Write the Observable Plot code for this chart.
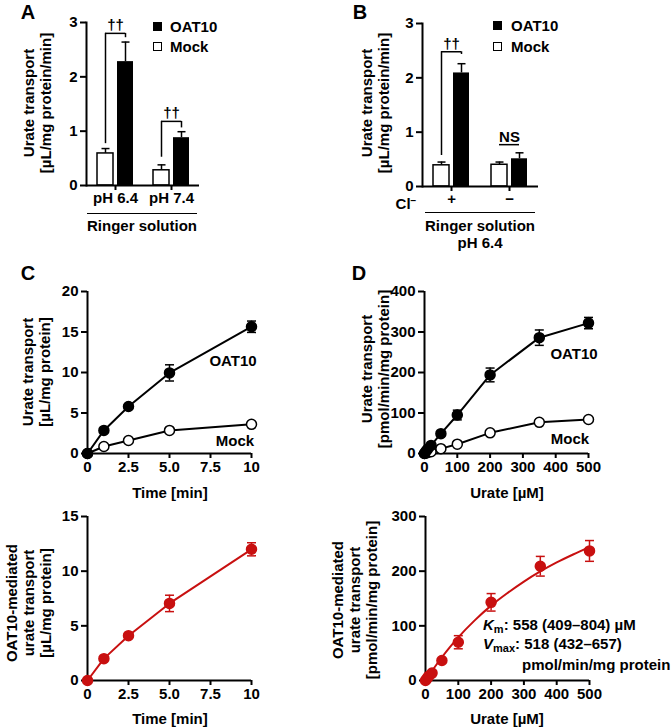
<!DOCTYPE html>
<html><head><meta charset="utf-8">
<script src="https://cdn.jsdelivr.net/npm/d3@7"></script>
<script src="https://cdn.jsdelivr.net/npm/@observablehq/plot@0.6"></script>
<style>
body{margin:0;background:#fff;}
#fig{position:relative;width:671px;height:727px;font-family:"Liberation Sans",Arial,sans-serif;font-weight:bold;color:#000;overflow:hidden;background:#fff;}
.t{position:absolute;white-space:nowrap;font-size:15px;line-height:17px;transform:translate(-50%,-50%);}
.tl{position:absolute;white-space:nowrap;font-size:15px;line-height:17px;transform:translate(0,-50%);}
.rot{transform:translate(-50%,-50%) rotate(-90deg);text-align:center;}
.sq{position:absolute;width:9px;height:9px;box-sizing:border-box;border:1.5px solid #000;}
.hl{position:absolute;height:0;border-top:1.5px solid #000;}
.sub{font-size:11px;vertical-align:-3px;}
</style></head><body><div id="fig"></div>
<script>
// ---------------- DATA ----------------
// Panel A
const groupsA = ["pH 6.4", "pH 7.4"];
const mockA = [0.59, 0.28];
const mockErrA = [0.09, 0.10];
const oatA = [2.28, 0.88];
const oatErrA = [0.36, 0.11];
const brGroupA = ["pH 6.4", "pH 7.4"];
const brYA = [2.8, 1.18];
const brLoA = [0.77, 0.52];
const brHiA = [2.72, 1.06];
const brLabelA = ["††", "††"];
// Panel B
const groupsB = ["+", "−"];
const mockB = [0.39, 0.40];
const mockErrB = [0.06, 0.05];
const oatB = [2.09, 0.51];
const oatErrB = [0.17, 0.11];
const brGroupB = ["+", "−"];
const brYB = [2.48, 0.77];
const brLoB = [0.57, null];
const brHiB = [2.43, null];
const brLabelB = ["††", "NS"];
const barTicks = [0, 1, 2, 3];
// Panel C (time course)
const timeC = [0, 1, 2.5, 5, 10];
const oatC = [0, 2.85, 5.8, 9.95, 15.65];
const oatErrC = [0, 0.15, 0.2, 1.0, 0.7];
const mockC = [0, 0.86, 1.6, 2.85, 3.6];
const mockErrC = [0, 0.1, 0.1, 0.15, 0.2];
const medC = [0, 2.0, 4.1, 7.05, 12.0];
const medErrC = [0, 0.15, 0.2, 0.75, 0.6];
const timeTicks = [0, 2.5, 5, 7.5, 10];
const timeTickLabels = ["0", "2.5", "5.0", "7.5", "10"];
const yTicksC = [0, 5, 10, 15, 20];
const yTicksC2 = [0, 5, 10, 15];
// Panel D (concentration dependence)
const urateD = [0, 5, 10, 20, 50, 100, 200, 350, 500];
const oatD = [0, 6, 11, 20, 49, 95, 194, 286, 322];
const oatErrD = [0, 1, 2, 3, 5, 12, 17, 19, 14];
const mockD = [0, 1.5, 2.5, 4.5, 12, 23, 51, 77, 84];
const mockErrD = [0, 0.5, 0.5, 1, 1.5, 2, 3, 4, 4];
const medD = [0, 4, 8, 13.5, 36.5, 70, 143, 209, 237];
const medErrD = [0, 1, 1.5, 2, 3, 12, 16, 18, 19];
const fitX = [0, 25, 50, 75, 100, 150, 200, 250, 300, 350, 400, 450, 500];
const fitY = [0, 22, 42.5, 61.5, 79, 110, 137, 160, 181, 199.5, 216, 230.5, 244];
const urateTicks = [0, 100, 200, 300, 400, 500];
const yTicksD = [0, 100, 200, 300, 400];
const yTicksD2 = [0, 100, 200, 300];

// ---------------- HELPERS ----------------
const RED = "#c81010";
const TICK_FS = 15;
const STYLE = "background:transparent;overflow:visible;font-family:'Liberation Sans',Arial,sans-serif;font-weight:bold;font-size:15px;color:#000;";
const CAP = {draw(ctx, size) { const w = Math.sqrt(size / Math.PI); ctx.moveTo(-w, 0); ctx.lineTo(w, 0); }};
const fig = document.getElementById("fig");
function addPlot(p, left, top) { p.style.position = "absolute"; p.style.left = left + "px"; p.style.top = top + "px"; fig.appendChild(p); }
function addText(html, x, y, cls = "t", extra = "") {
  const d = document.createElement("div"); d.className = cls; d.innerHTML = html;
  d.style.left = x + "px"; d.style.top = y + "px"; if (extra) d.style.cssText += extra; fig.appendChild(d); return d;
}
function addLine(x1, x2, y) { const d = document.createElement("div"); d.className = "hl"; d.style.left = x1 + "px"; d.style.width = (x2 - x1) + "px"; d.style.top = y + "px"; fig.appendChild(d); }
function addSquare(x, y, filled) { const d = document.createElement("div"); d.className = "sq"; d.style.left = x + "px"; d.style.top = y + "px"; d.style.background = filled ? "#000" : "#fff"; fig.appendChild(d); }

function barPanel(c) {
  const mL = 40, mR = 10, mT = 10, mB = 40;
  const rows = c.groups.map((g, i) => ({g, mock: c.mock[i], mockTop: c.mock[i] + c.mockErr[i], oat: c.oat[i], oatTop: c.oat[i] + c.oatErr[i]}));
  const br = c.brGroup.map((g, i) => ({g, y: c.brY[i], lo: c.brLo[i], hi: c.brHi[i], label: c.brLabel[i]}));
  const legs = br.filter(d => d.lo != null);
  const step = c.w / c.groups.length, bw = 36, pI = 1 - bw / step;
  const p = Plot.plot({
    width: mL + c.w + mR, height: mT + c.h + mB,
    marginLeft: mL, marginRight: mR, marginTop: mT, marginBottom: mB,
    style: STYLE,
    x: {domain: c.groups, paddingInner: pI, paddingOuter: pI / 2},
    y: {domain: [0, 3]},
    marks: [
      Plot.ruleX(rows, {x: "g", y1: "mock", y2: "mockTop", dx: -10, strokeWidth: 1.5}),
      Plot.dot(rows, {x: "g", y: "mockTop", dx: -10, symbol: CAP, r: 4, stroke: "black", strokeWidth: 1.5}),
      Plot.ruleX(rows, {x: "g", y1: "oat", y2: "oatTop", dx: 10, strokeWidth: 1.5}),
      Plot.dot(rows, {x: "g", y: "oatTop", dx: 10, symbol: CAP, r: 4, stroke: "black", strokeWidth: 1.5}),
      Plot.barY(rows, {x: "g", y: "mock", insetRight: 20, fill: "white", stroke: "black", strokeWidth: 1.5}),
      Plot.barY(rows, {x: "g", y: "oat", insetLeft: 20, fill: "black"}),
      Plot.tickY(br, {x: "g", y: "y", insetLeft: 8, insetRight: 8, strokeWidth: 1.5}),
      Plot.ruleX(legs, {x: "g", y1: "lo", y2: "y", dx: -10, strokeWidth: 1.5}),
      Plot.ruleX(legs, {x: "g", y1: "hi", y2: "y", dx: 10, strokeWidth: 1.5}),
      Plot.text(br, {x: "g", y: "y", text: "label", lineAnchor: "bottom", dy: -3, fontSize: 15, fontWeight: "bold"}),
      Plot.ruleY([0], {strokeWidth: 2}),
      Plot.frame({anchor: "left", strokeWidth: 2}),
      Plot.axisY({ticks: barTicks, tickSize: 6, tickPadding: 3, strokeWidth: 2, label: null, fontSize: TICK_FS, tickFormat: d => String(d)}),
      Plot.axisX({tickSize: 5, tickPadding: 2, strokeWidth: 2, label: null, fontSize: 15})
    ]
  });
  addPlot(p, c.left - mL, c.top - mT);
}

function seriesMarks(xs, ys, es, fill, stroke, withLine) {
  const rows = xs.map((x, i) => ({x, y: ys[i], lo: ys[i] - es[i], hi: ys[i] + es[i], e: es[i]}));
  const er = rows.filter(d => d.e > 0);
  return [
    withLine ? Plot.line(rows, {x: "x", y: "y", stroke, strokeWidth: 2}) : null,
    Plot.ruleX(er, {x: "x", y1: "lo", y2: "hi", stroke, strokeWidth: 1.5}),
    Plot.dot(er, {x: "x", y: "hi", symbol: CAP, r: 4.5, stroke, strokeWidth: 1.5}),
    Plot.dot(er, {x: "x", y: "lo", symbol: CAP, r: 4.5, stroke, strokeWidth: 1.5}),
    Plot.dot(rows, {x: "x", y: "y", r: 5, fill, stroke, strokeWidth: 1.5})
  ];
}

function linePanel(c) {
  const mL = 40, mR = 12, mT = 10, mB = 30;
  const p = Plot.plot({
    width: mL + c.w + mR, height: mT + c.h + mB,
    marginLeft: mL, marginRight: mR, marginTop: mT, marginBottom: mB,
    style: STYLE,
    x: {domain: c.xDomain},
    y: {domain: c.yDomain},
    marks: [
      Plot.ruleY([c.yDomain[0]], {strokeWidth: 2}),
      Plot.ruleX([c.xDomain[0]], {strokeWidth: 2}),
      Plot.axisX({ticks: c.xTicks, tickFormat: c.xFormat, tickSize: 5, tickPadding: 3, strokeWidth: 2, label: null, fontSize: TICK_FS}),
      Plot.axisY({ticks: c.yTicks, tickFormat: d => String(d), tickSize: 6, tickPadding: 3, strokeWidth: 2, label: null, fontSize: TICK_FS}),
      ...c.marks
    ]
  });
  addPlot(p, c.left - mL, c.top - mT);
}

// ---------------- PANELS ----------------
barPanel({groups: groupsA, mock: mockA, mockErr: mockErrA, oat: oatA, oatErr: oatErrA,
  brGroup: brGroupA, brY: brYA, brLo: brLoA, brHi: brHiA, brLabel: brLabelA,
  left: 86, top: 22, w: 113, h: 163});
barPanel({groups: groupsB, mock: mockB, mockErr: mockErrB, oat: oatB, oatErr: oatErrB,
  brGroup: brGroupB, brY: brYB, brLo: brLoB, brHi: brHiB, brLabel: brLabelB,
  left: 422, top: 23, w: 116, h: 163});

const timeFmt = d => timeTickLabels[timeTicks.indexOf(d)];
linePanel({left: 87, top: 291, w: 164, h: 162, xDomain: [0, 10], yDomain: [0, 20],
  xTicks: timeTicks, xFormat: timeFmt, yTicks: yTicksC,
  marks: [...seriesMarks(timeC, mockC, mockErrC, "white", "black", true), ...seriesMarks(timeC, oatC, oatErrC, "black", "black", true)]});
linePanel({left: 424, top: 291, w: 164, h: 162, xDomain: [0, 500], yDomain: [0, 400],
  xTicks: urateTicks, xFormat: d => String(d), yTicks: yTicksD,
  marks: [...seriesMarks(urateD, mockD, mockErrD, "white", "black", true), ...seriesMarks(urateD, oatD, oatErrD, "black", "black", true)]});
linePanel({left: 87, top: 516, w: 164, h: 164, xDomain: [0, 10], yDomain: [0, 15],
  xTicks: timeTicks, xFormat: timeFmt, yTicks: yTicksC2,
  marks: [...seriesMarks(timeC, medC, medErrC, RED, RED, true)]});
const fitRows = fitX.map((x, i) => ({x, y: fitY[i]}));
linePanel({left: 425, top: 516, w: 164, h: 164, xDomain: [0, 500], yDomain: [0, 300],
  xTicks: urateTicks, xFormat: d => String(d), yTicks: yTicksD2,
  marks: [Plot.line(fitRows, {x: "x", y: "y", stroke: RED, strokeWidth: 2, curve: "monotone-x"}),
    ...seriesMarks(urateD, medD, medErrD, RED, RED, false)]});

// ---------------- TEXT ----------------
addText("A", 28, 12, "t", "font-size:20px;line-height:20px;");
addText("B", 360, 12, "t", "font-size:20px;line-height:20px;");
addText("C", 28, 273, "t", "font-size:20px;line-height:20px;");
addText("D", 359, 273, "t", "font-size:20px;line-height:20px;");

addText("Urate transport<br>[µL/mg protein/min]", 37, 103, "t rot");
addText("Urate transport<br>[µL/mg protein/min]", 375, 103, "t rot");
addText("Urate transport<br>[µL/mg protein]", 36, 372, "t rot");
addText("Urate transport<br>[pmol/min/mg protein]", 375, 369, "t rot");
addText("OAT10-mediated<br>urate transport<br>[µL/mg protein]", 28, 603, "t rot");
addText("OAT10-mediated<br>urate transport<br>[pmol/min/mg protein]", 354, 600, "t rot");

// legends
addSquare(153, 22, true); addText("OAT10", 170, 26, "tl");
addSquare(153, 42, false); addText("Mock", 170, 46, "tl");
addSquare(493, 21, true); addText("OAT10", 511, 25, "tl");
addSquare(493, 42, false); addText("Mock", 511, 46, "tl");

// group captions
addLine(87, 197, 213); addText("Ringer solution", 142, 225);
addText('Cl<span style="font-size:10px;vertical-align:5px;">−</span>', 406, 202);
addLine(425, 535, 212); addText("Ringer solution", 480, 225); addText("pH 6.4", 480, 242);

// axis titles
addText("Time [min]", 170, 492); addText("Urate [µM]", 507, 492);
addText("Time [min]", 170, 718); addText("Urate [µM]", 507, 718);

// series labels
addText("OAT10", 233, 360); addText("Mock", 235, 440);
addText("OAT10", 574, 353); addText("Mock", 570, 438);

// kinetics annotation
addText('<i>K</i><span class="sub">m</span>: 558 (409–804) µM', 483, 627, "tl");
addText('<i>V</i><span class="sub">max</span>: 518 (432–657)', 483, 646, "tl");
addText('pmol/min/mg protein', 522, 664, "tl");
</script></body></html>
